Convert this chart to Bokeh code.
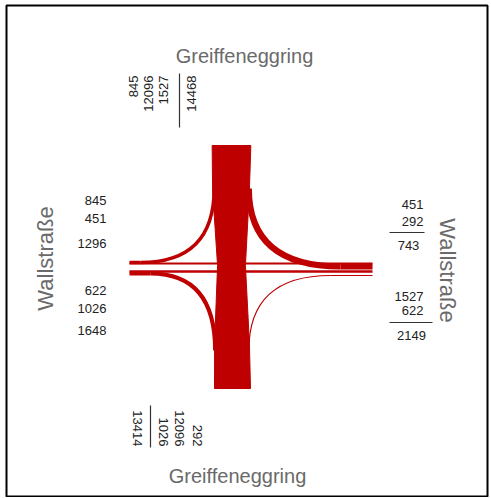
import numpy as np
from bokeh.plotting import figure
from bokeh.models import Range1d
from bokeh.core.properties import value
from bokeh.embed import file_html
from bokeh.resources import INLINE

# ---------------- data ----------------
road_ns = "Greiffeneggring"
road_ew = "Wallstraße"

flow_n_w = 845     # Greiffeneggring (N) -> Wallstraße (W)
flow_n_s = 12096   # Greiffeneggring (N) -> Greiffeneggring (S)
flow_n_e = 1527    # Greiffeneggring (N) -> Wallstraße (E)
flow_e_w = 451     # Wallstraße (E) -> Wallstraße (W)
flow_e_s = 292     # Wallstraße (E) -> Greiffeneggring (S)
flow_w_e = 622     # Wallstraße (W) -> Wallstraße (E)
flow_w_s = 1026    # Wallstraße (W) -> Greiffeneggring (S)

north_out = [flow_n_w, flow_n_s, flow_n_e]
south_in = [flow_w_s, flow_n_s, flow_e_s]
west_in = [flow_n_w, flow_e_w]
west_out = [flow_w_e, flow_w_s]
east_out = [flow_e_w, flow_e_s]
east_in = [flow_n_e, flow_w_e]

# ---------------- style / layout ----------------
RED = "#BE0000"
NUM_COL = "#222222"
TITLE_COL = "#6a6a6a"
FONT = value("Liberation Sans")
K_LINE = 0.004     # px per vehicle for turning / through lines
K_BAND = 0.0032    # px per vehicle for the main band

FL, FT, FW, FH = 6, 5, 481, 491
p = figure(width=FL + FW + 2, height=FT + FH + 1, output_backend="svg", toolbar_location=None,
           x_range=Range1d(FL, FL + FW), y_range=Range1d(FT + FH, FT),
           x_axis_type=None, y_axis_type=None,
           min_border_left=FL, min_border_top=FT, min_border_right=2, min_border_bottom=1)
p.grid.visible = False
p.outline_line_color = "black"
p.outline_line_width = 2
p.background_fill_color = "white"
p.border_fill_color = "white"

# intersection layout
cx = 231.0
y_top, y_bot = 145.0, 388.0
x_left, x_right = 129.0, 372.0
lane_ew = 263.0
lane_we = 271.0

# --- through lines E<->W
p.segment(x0=[x_left, x_left], y0=[lane_ew, lane_we], x1=[x_right, x_right], y1=[lane_ew, lane_we],
          line_color=RED, line_width=[K_LINE * flow_e_w, K_LINE * flow_w_e])

hw = K_BAND * flow_n_s / 2.0
eL = cx - hw + 2
eR = cx + hw - 2

# --- N -> W
p.quadratic(x0=[eL], y0=[188], x1=[140], y1=[262], cx=[eL], cy=[262],
            line_color=RED, line_width=K_LINE * flow_n_w)
p.segment(x0=[140], y0=[262], x1=[x_left], y1=[262], line_color=RED, line_width=K_LINE * flow_n_w)
# --- N -> E
p.quadratic(x0=[eR], y0=[188], x1=[340], y1=[266], cx=[eR], cy=[266],
            line_color=RED, line_width=K_LINE * flow_n_e)
p.segment(x0=[340], y0=[266], x1=[x_right], y1=[266], line_color=RED, line_width=K_LINE * flow_n_e)
# --- W -> S
p.segment(x0=[x_left], y0=[273], x1=[150], y1=[273], line_color=RED, line_width=K_LINE * flow_w_s)
p.quadratic(x0=[150], y0=[273], x1=[eL + 1], y1=[350], cx=[eL + 1], cy=[273],
            line_color=RED, line_width=K_LINE * flow_w_s)
# --- E -> S
p.segment(x0=[x_right], y0=[275], x1=[330], y1=[275], line_color=RED, line_width=K_LINE * flow_e_s)
p.quadratic(x0=[330], y0=[275], x1=[eR], y1=[350], cx=[eR], cy=[275],
            line_color=RED, line_width=K_LINE * flow_e_s)

# --- N -> S band (slightly waisted ribbon)
ys = np.array([y_top, 190, 265, 343, y_bot])
fac = np.array([1.0, 0.95, 0.72, 0.9, 0.93])
off = np.array([0.0, -0.5, 0.0, 0.5, 1.0])
xs_l = cx + off - hw * fac
xs_r = cx + off + hw * fac
p.patch(x=list(xs_l) + list(xs_r[::-1]), y=list(ys) + list(ys[::-1]),
        fill_color=RED, line_color=RED, line_width=1)

# ---------------- texts ----------------
# road names
p.text(x=[244], y=[55], text=[road_ns], text_font=FONT, text_font_size="20px",
       text_color=TITLE_COL, text_align="center", text_baseline="middle")
p.text(x=[237], y=[475], text=[road_ns], text_font=FONT, text_font_size="20px",
       text_color=TITLE_COL, text_align="center", text_baseline="middle")
p.text(x=[45], y=[258], text=[road_ew], text_font=FONT, text_font_size="22px",
       text_color=TITLE_COL, text_align="center", text_baseline="middle", angle=np.pi / 2)
p.text(x=[447], y=[270], text=[road_ew], text_font=FONT, text_font_size="22px",
       text_color=TITLE_COL, text_align="center", text_baseline="middle", angle=-np.pi / 2)

NFS = "13px"
# west side
west_vals = west_in + [sum(west_in)] + west_out + [sum(west_out)]
west_y = [200, 218, 243, 290, 308, 330]
p.text(x=[106] * 6, y=west_y, text=[str(v) for v in west_vals], text_font=FONT,
       text_font_size=NFS, text_color=NUM_COL, text_align="right", text_baseline="middle")

# east side
east_vals = east_out + east_in
east_y = [204, 221, 296, 310]
p.text(x=[423] * 4, y=east_y, text=[str(v) for v in east_vals], text_font=FONT,
       text_font_size=NFS, text_color=NUM_COL, text_align="right", text_baseline="middle")
p.text(x=[408, 411], y=[245, 335], text=[str(sum(east_out)), str(sum(east_in))], text_font=FONT,
       text_font_size=NFS, text_color=NUM_COL, text_align="center", text_baseline="middle")
p.segment(x0=[389, 389], y0=[232, 322], x1=[424, 432], y1=[232, 322], line_color="#333333", line_width=1.2)

# north side (rotated, reading upward, ends aligned at the top)
north_vals = north_out + [sum(north_out)]
north_x = [133, 148, 163, 191]
p.text(x=north_x, y=[75] * 4, text=[str(v) for v in north_vals], text_font=FONT,
       text_font_size=NFS, text_color=NUM_COL, text_align="right", text_baseline="middle",
       angle=np.pi / 2)
p.segment(x0=[179], y0=[73], x1=[179], y1=[127], line_color="#333333", line_width=1.2)

# south side (rotated, reading downward, ends aligned at the bottom)
south_vals = [sum(south_in)] + south_in
south_x = [137, 163, 179, 197]
p.text(x=south_x, y=[446] * 4, text=[str(v) for v in south_vals], text_font=FONT,
       text_font_size=NFS, text_color=NUM_COL, text_align="right", text_baseline="middle",
       angle=-np.pi / 2)
p.segment(x0=[150], y0=[405], x1=[150], y1=[447], line_color="#333333", line_width=1.2)

open("out.html", "w").write(file_html(p, INLINE))
